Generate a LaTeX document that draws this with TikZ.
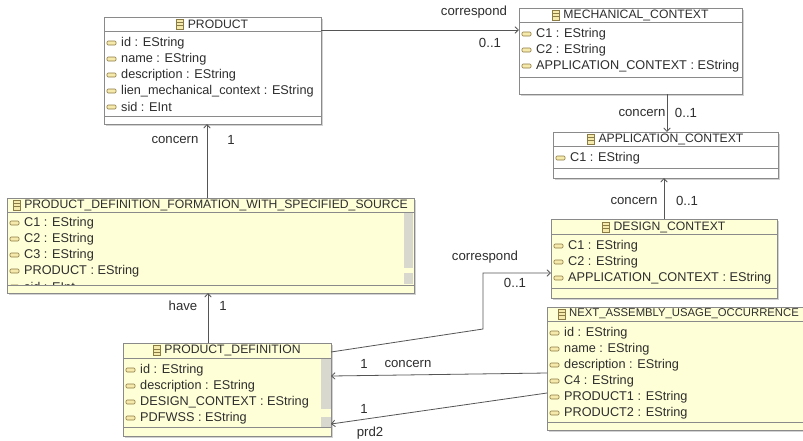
\documentclass[tikz,border=0pt]{standalone}
\usepackage{fontspec}
\setmainfont{Liberation Sans}
\usetikzlibrary{arrows.meta,shadows,calc}
\definecolor{yfill}{HTML}{FFFFD7}
\definecolor{bord}{HTML}{8A8A8A}
\definecolor{conncol}{HTML}{555555}
\definecolor{txt}{HTML}{2E2E2E}
\definecolor{shad}{HTML}{D2D2D2}
\definecolor{scr}{HTML}{D8D8CE}
\definecolor{icf}{HTML}{F6E9AC}
\definecolor{icb}{HTML}{8B7B45}
\tikzset{
  box/.style={draw=bord, line width=0.8pt, anchor=north west, inner sep=0pt, outer sep=0pt,
    drop shadow={shadow xshift=2pt, shadow yshift=-2pt, fill=shad, opacity=1}},
  sepline/.style={draw=bord, line width=0.8pt},
  attr/.style={anchor=west, inner sep=0pt, text=txt},
  ttl/.style={inner sep=0pt, text=txt, font=\fontsize{12.2}{14}\selectfont},
  conn/.style={draw=conncol, line width=0.8pt, -{Straight Barb[length=3.5pt,width=6.5pt]}},
  lbl/.style={inner sep=0pt, text=txt, font=\fontsize{13.2}{15}\selectfont},
  aicon/.style={draw=icb, fill=icf, line width=0.6pt, rounded corners=1pt},
  scrollbar/.style={fill=scr, draw=none},
  clsicon/.pic={
    \draw[draw=icb, fill=icf, line width=0.6pt] (-3.5,-5) rectangle (3.5,5);
    \draw[draw=icb, line width=0.5pt] (-3.5,-1.7) -- (3.5,-1.7) (-3.5,1.7) -- (3.5,1.7);
  }
}
\newcommand\umlattrs[4]{%
  \foreach \aname [count=\ai] in {#4}{%
    \pgfmathsetmacro\yy{#3+16*(\ai-1)}%
    \draw[aicon] (#2,\yy-2) rectangle ++(9,4);
    \node[attr] (#1-\ai) at (#2+14,\yy) {\aname};
  }}
\newcommand\umltitle[4]{% name, center x, y, text
  \node[ttl] (#1) at (#2+5.5,#3) {#4};
  \pic at ([xshift=-7.5pt]#1.west) {clsicon};
}
\begin{document}
\begin{tikzpicture}[x=1pt,y=-1pt, font=\fontsize{12.7}{14}\selectfont]
\clip (0,0) rectangle (803,440);
\fill[white] (0,0) rectangle (803,440);

% PRODUCT
\node[box, fill=white, minimum width=217pt, minimum height=107pt] (prod) at (104,17) {};
\draw[sepline] (prod.west |- 0,31) -- (prod.east |- 0,31);
\draw[sepline] (prod.west |- 0,116) -- (prod.east |- 0,116);
\umltitle{prodt}{212.5}{24}{PRODUCT}
\umlattrs{pa}{107}{43}{id : EString, name : EString, description : EString, lien\_mechanical\_context : EString, sid : EInt}

% MECHANICAL_CONTEXT
\node[box, fill=white, minimum width=223pt, minimum height=86pt] (mech) at (519,8) {};
\draw[sepline] (mech.west |- 0,22) -- (mech.east |- 0,22);
\draw[sepline] (mech.west |- 0,77) -- (mech.east |- 0,77);
\umltitle{mecht}{630.5}{15}{MECHANICAL\_CONTEXT}
\umlattrs{ma}{522}{34}{C1 : EString, C2 : EString, APPLICATION\_CONTEXT : EString}

% APPLICATION_CONTEXT
\node[box, fill=white, minimum width=225pt, minimum height=46pt] (app) at (553,132) {};
\draw[sepline] (app.west |- 0,146) -- (app.east |- 0,146);
\draw[sepline] (app.west |- 0,168) -- (app.east |- 0,168);
\umltitle{appt}{665.5}{139}{APPLICATION\_CONTEXT}
\umlattrs{aa}{556}{158}{C1 : EString}

% DESIGN_CONTEXT
\node[box, fill=yfill, minimum width=226pt, minimum height=79pt] (design) at (551,219) {};
\draw[sepline] (design.west |- 0,234) -- (design.east |- 0,234);
\draw[sepline] (design.west |- 0,288) -- (design.east |- 0,288);
\umltitle{designt}{664}{227}{DESIGN\_CONTEXT}
\umlattrs{da}{554}{246}{C1 : EString, C2 : EString, APPLICATION\_CONTEXT : EString}

% PRODUCT_DEFINITION_FORMATION_WITH_SPECIFIED_SOURCE
\node[box, fill=yfill, minimum width=407pt, minimum height=95pt] (pdfwss) at (7,198) {};
\fill[scrollbar] (404,213) rectangle (413,268);
\fill[scrollbar] (404,273) rectangle (413,284);
\draw[sepline] (pdfwss.west |- 0,212) -- (pdfwss.east |- 0,212);
\begin{scope}
  \clip (7,212) rectangle (404,284.5);
  \umlattrs{fa}{10}{223}{C1 : EString, C2 : EString, C3 : EString, PRODUCT : EString, sid : EInt}
\end{scope}
\draw[sepline] (pdfwss.west |- 0,285) -- (pdfwss.east |- 0,285);
\umltitle{pdfwsst}{210.5}{205}{PRODUCT\_DEFINITION\_FORMATION\_WITH\_SPECIFIED\_SOURCE}

% PRODUCT_DEFINITION
\node[box, fill=yfill, minimum width=208pt, minimum height=93pt] (pd) at (123,343) {};
\fill[scrollbar] (321,359) rectangle (330.6,409);
\fill[scrollbar] (321,417) rectangle (330.6,427);
\draw[sepline] (pd.west |- 0,358) -- (pd.east |- 0,358);
\draw[sepline] (pd.west |- 0,427) -- (pd.east |- 0,427);
\umltitle{pdt}{227}{350.5}{PRODUCT\_DEFINITION}
\umlattrs{da2}{126}{370}{id : EString, description : EString, DESIGN\_CONTEXT : EString, PDFWSS : EString}

% NEXT_ASSEMBLY_USAGE_OCCURRENCE
\node[box, fill=yfill, minimum width=300pt, minimum height=123pt] (nauo) at (547,307) {};
\draw[sepline] (nauo.west |- 0,321) -- (nauo.east |- 0,321);
\draw[sepline] (nauo.west |- 0,422) -- (nauo.east |- 0,422);
\node[ttl, anchor=west, font=\fontsize{11.3}{14}\selectfont] (nauot) at (569,314) {NEXT\_ASSEMBLY\_USAGE\_OCCURRENCE};
\pic at ([xshift=-7.5pt]nauot.west) {clsicon};
\umlattrs{na}{550}{333}{id : EString, name : EString, description : EString, C4 : EString, PRODUCT1 : EString, PRODUCT2 : EString}

% connectors
\draw[conn] (prod.east |- 0,30) -- (mech.west |- 0,30);
\node[lbl] (c1a) at (474,12) {correspond};
\node[lbl] (c1b) at (490,43) {0..1};

\draw[conn] (mech.south -| 667,0) -- (app.north -| 667,0);
\node[lbl] (c2a) at (642,113) {concern};
\node[lbl] (c2b) at (686,113) {0..1};

\draw[conn] (design.north -| 664,0) -- (app.south -| 664,0);
\node[lbl] (c3a) at (634,201) {concern};
\node[lbl] (c3b) at (687,201) {0..1};

\draw[conn] (pdfwss.north -| 207,0) -- (prod.south -| 207,0);
\node[lbl] (c4a) at (175,140) {concern};
\node[lbl] (c4b) at (231,140) {1};

\draw[conn] (pd.north -| 208,0) -- (pdfwss.south -| 208,0);
\node[lbl] (c5a) at (183,306) {have};
\node[lbl] (c5b) at (223,306) {1};

\coordinate (k1) at (483,329);
\coordinate (k2) at (483,273);
\draw[conn] (pd.east |- 0,352) -- (k1) -- (k2) -- (design.west |- k2);
\node[lbl] (c6a) at (485,257) {correspond};
\node[lbl] (c6b) at (515,283) {0..1};

\draw[conn] (nauo.west |- 0,373) -- (pd.east |- 0,376);
\node[lbl] (c7a) at (364,364) {1};
\node[lbl] (c7b) at (408,364) {concern};

\draw[conn] (nauo.west |- 0,393) -- (pd.east |- 0,424);
\node[lbl] (c8a) at (364,409) {1};
\node[lbl] (c8b) at (370,433) {prd2};
\end{tikzpicture}
\end{document}
